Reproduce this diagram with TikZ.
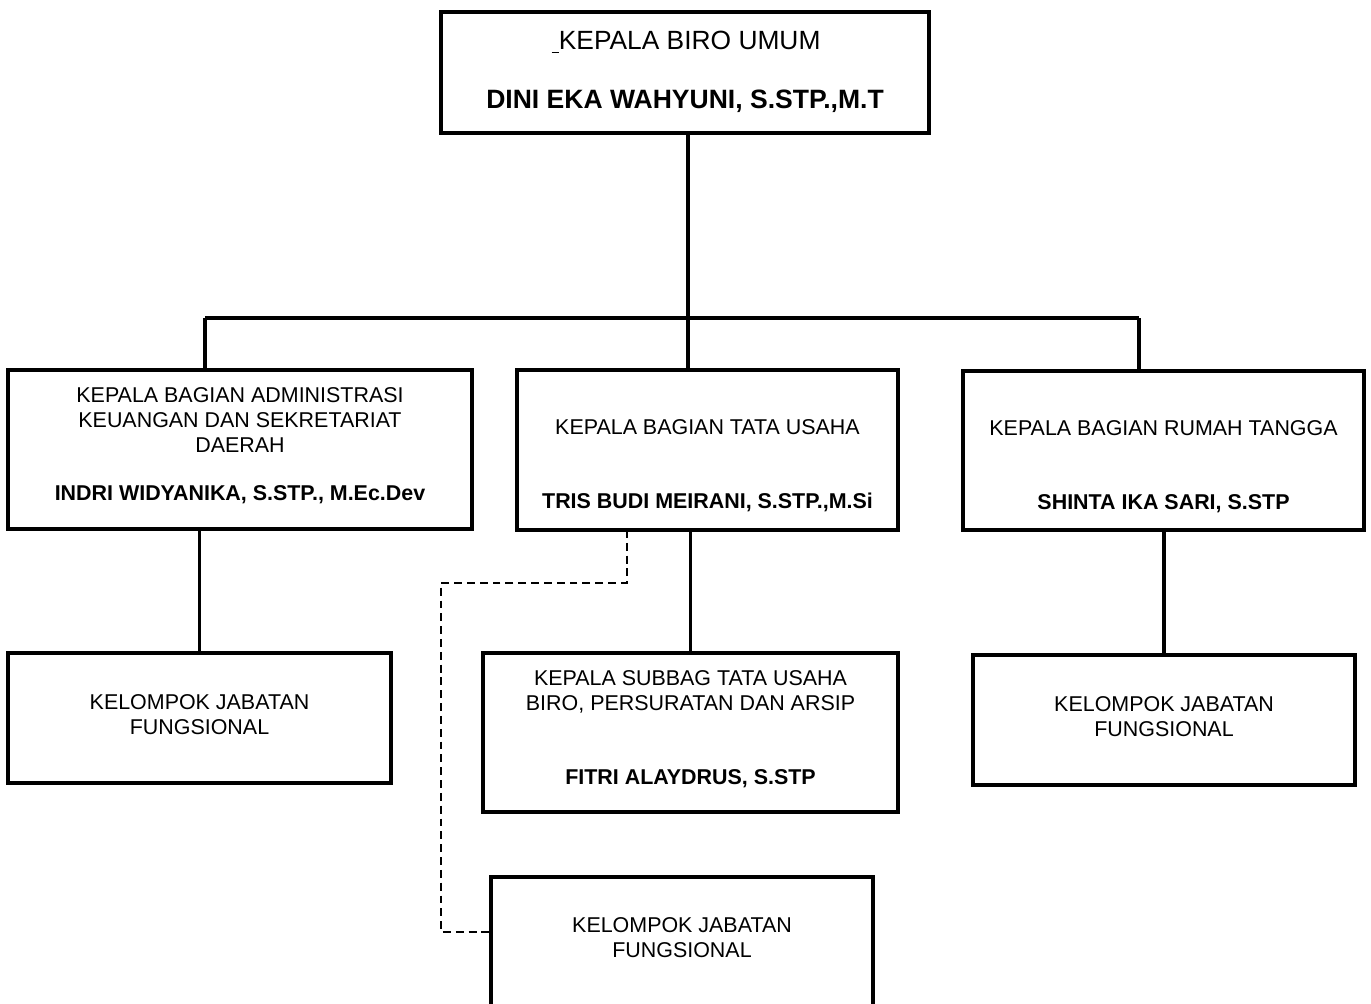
\documentclass[tikz,border=0pt]{standalone}
\usepackage{fontspec}
\setmainfont{Liberation Sans}
\begin{document}
\begin{tikzpicture}[x=0.02cm, y=-0.02cm,
	box/.style={draw=black, line width=2.2pt, inner sep=0pt, outer sep=0pt},
	teks/.style={anchor=base, align=center, inner sep=0pt, font=\fontsize{12.2}{14.2}\selectfont},
	nama/.style={teks, font=\fontsize{12.2}{14.2}\selectfont\bfseries},
	garis/.style={line width=2.2pt},
	putus/.style={line width=0.9pt, dash pattern=on 4.5pt off 2.8pt}]
	\useasboundingbox (0,0) rectangle (1371,1003);
	\clip (0,0) rectangle (1371,1003);

	\node[box, minimum width=9.76cm, minimum height=2.42cm] (kabiro)   at (685,72.5)   {};
	\node[box, minimum width=9.28cm, minimum height=3.18cm] (kabagAdm) at (240,449.5)  {};
	\node[box, minimum width=7.62cm, minimum height=3.20cm] (kabagTU)  at (707.5,450)  {};
	\node[box, minimum width=8.02cm, minimum height=3.18cm] (kabagRT)  at (1163.5,450.5) {};
	\node[box, minimum width=7.66cm, minimum height=2.60cm] (jfAdm)    at (199.5,718)  {};
	\node[box, minimum width=8.30cm, minimum height=3.18cm] (subbag)   at (690.5,732.5) {};
	\node[box, minimum width=7.64cm, minimum height=2.60cm] (jfRT)     at (1164,720)   {};
	\node[box, minimum width=7.64cm, minimum height=3.66cm] (jfTU)     at (682,968.5)  {};

	% multi-line texts sit on the baseline of their last line
	\node[teks, font=\fontsize{15}{17}\selectfont] (kabiroJab) at (686,50) {\underline{\ }KEPALA BIRO UMUM};
	\node[nama, font=\fontsize{15.1}{17}\selectfont\bfseries] (kabiroNama) at (685,109) {DINI EKA WAHYUNI, S.STP.,M.T};
	\node[teks] (kabagAdmJab)  at (240,452)    {KEPALA BAGIAN ADMINISTRASI\\KEUANGAN DAN SEKRETARIAT\\DAERAH};
	\node[nama] (kabagAdmNama) at (240,500)    {INDRI WIDYANIKA, S.STP., M.Ec.Dev};
	\node[teks] (kabagTUJab)   at (707.5,434)  {KEPALA BAGIAN TATA USAHA};
	\node[nama] (kabagTUNama)  at (707.5,508)  {TRIS BUDI MEIRANI, S.STP.,M.Si};
	\node[teks] (kabagRTJab)   at (1163.5,435) {KEPALA BAGIAN RUMAH TANGGA};
	\node[nama] (kabagRTNama)  at (1163.5,509) {SHINTA IKA SARI, S.STP};
	\node[teks] (jfAdmJab)     at (199.5,734)  {KELOMPOK JABATAN\\FUNGSIONAL};
	\node[teks] (subbagJab)    at (690.5,710)  {KEPALA SUBBAG TATA USAHA\\BIRO, PERSURATAN DAN ARSIP};
	\node[nama] (subbagNama)   at (690.5,784)  {FITRI ALAYDRUS, S.STP};
	\node[teks] (jfRTJab)      at (1164,736)   {KELOMPOK JABATAN\\FUNGSIONAL};
	\node[teks] (jfTUJab)      at (682,957)    {KELOMPOK JABATAN\\FUNGSIONAL};

	\coordinate (busL) at (205,318);
	\coordinate (busM) at (688,318);
	\coordinate (busR) at (1139,318);
	\coordinate (d1) at (627,583);
	\coordinate (d2) at (441,583);
	\coordinate (d3) at (441,932);

	\path [garis] (kabiro.south -| busM) edge (busM);
	\path [garis] (busL) edge (busR);
	\path [garis] (busL) edge (busL |- kabagAdm.north);
	\path [garis] (busM) edge (busM |- kabagTU.north);
	\path [garis] (busR) edge (busR |- kabagRT.north);
	\path [garis] (kabagAdm.south -| jfAdm.north) edge (jfAdm.north);
	\path [garis] (kabagTU.south -| subbag.north) edge (subbag.north);
	\path [garis] (kabagRT.south -| jfRT.north) edge (jfRT.north);
	\draw [putus] (kabagTU.south -| d1) -- (d1) -- (d2) -- (d3) -- (d3 -| jfTU.west);
\end{tikzpicture}
\end{document}
